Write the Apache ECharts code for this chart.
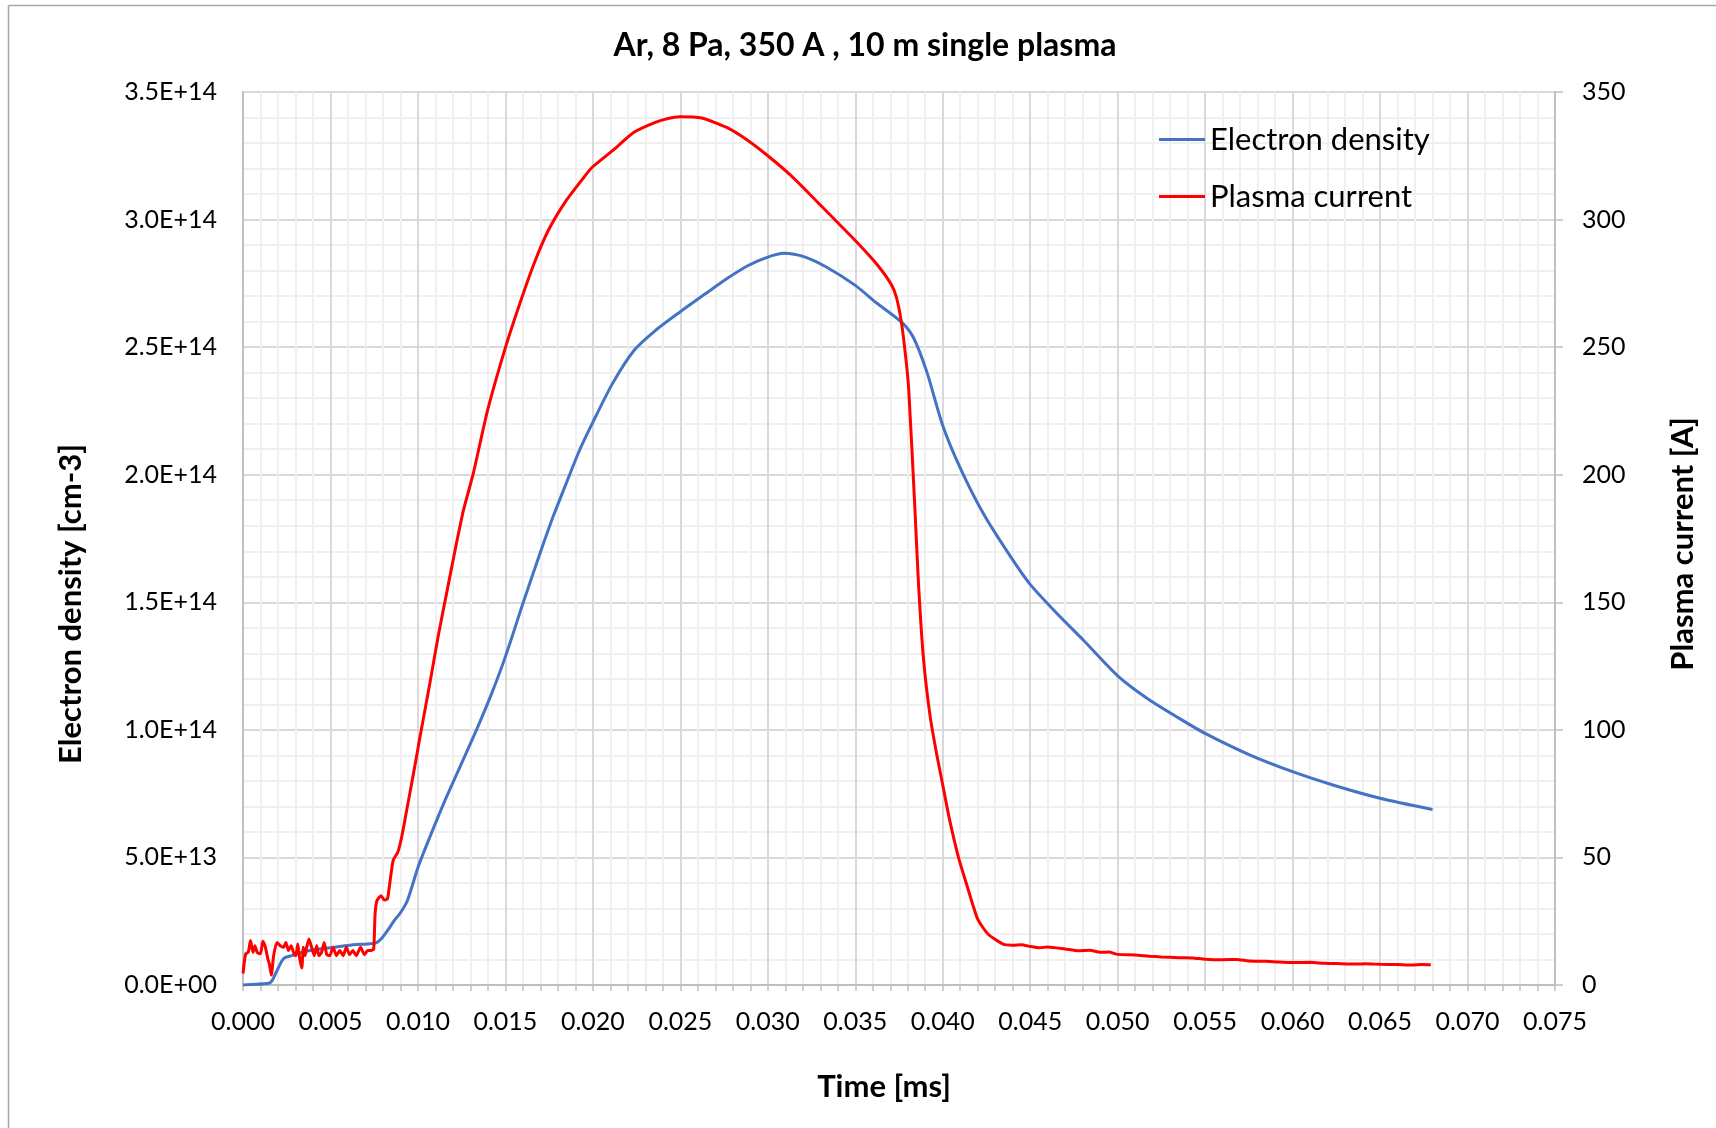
<!DOCTYPE html>
<html>
<head>
<meta charset="utf-8">
<script src="https://cdn.jsdelivr.net/npm/echarts@6/dist/echarts.min.js"></script>
<style>
html,body{margin:0;padding:0;background:#fff;}
#chart{width:1716px;height:1128px;}
</style>
</head>
<body>
<div id="chart"></div>
<script>
// ---- data ----
const titleText = 'Ar, 8 Pa, 350 A , 10 m single plasma';
const seriesNames = ['Electron density', 'Plasma current'];
const xAxisName = 'Time [ms]';
const yLeftName = 'Electron density [cm-3]';
const yRightName = 'Plasma current [A]';

// Electron density [cm-3] vs time [ms]
const tDensity = [0,0.00147,0.00166,0.00194,0.00223,0.00242,0.00279,0.00336,0.0043,0.00525,0.00619,0.00713,0.00761,0.00789,0.00826,0.00864,0.00902,0.0094,0.01002,0.01080,0.01164,0.01250,0.01336,0.0142,0.0150,0.01602,0.01704,0.01775,0.01847,0.01920,0.01996,0.02112,0.02235,0.02357,0.02496,0.02643,0.02765,0.02888,0.0300,0.03092,0.03214,0.03337,0.0350,0.03624,0.03766,0.03833,0.03909,0.0400,0.04099,0.04232,0.04384,0.0450,0.0465,0.04802,0.0500,0.0518,0.0535,0.055,0.05754,0.060,0.0623,0.065,0.068];
const density = [0,0.65e12,1.7e12,5.6e12,9.5e12,10.8e12,11.5e12,12.8e12,14.1e12,14.8e12,15.7e12,16.1e12,16.5e12,18e12,21.3e12,25.2e12,28.5e12,33.1e12,46.4e12,60e12,73.8e12,87e12,100.2e12,114e12,128.7e12,149.9e12,170.4e12,184e12,196.5e12,209e12,220e12,235.7e12,248.7e12,256.5e12,263.7e12,270.9e12,276.8e12,282e12,285.3e12,286.8e12,285.3e12,281.3e12,274.2e12,267.2e12,259.7e12,253.7e12,240.3e12,219.3e12,202.8e12,184.8e12,168.3e12,157e12,145.8e12,135.3e12,121.2e12,111.8e12,104.6e12,98.6e12,90.2e12,83.6e12,78.4e12,73.2e12,68.8e12];

// Plasma current [A] vs time [ms]
const tCurrent = [0,0.00015,0.0003,0.00043,0.00057,0.00068,0.00081,0.001,0.00113,0.00128,0.00142,0.00151,0.00162,0.00175,0.00194,0.00213,0.00232,0.00245,0.0026,0.00275,0.00289,0.00302,0.00313,0.00323,0.00336,0.00345,0.00355,0.00364,0.00377,0.00392,0.00408,0.00421,0.00434,0.00449,0.00464,0.00479,0.00496,0.00515,0.00534,0.00553,0.00572,0.00591,0.00609,0.00628,0.00647,0.00672,0.00694,0.00713,0.00732,0.00747,0.00755,0.00766,0.00789,0.00808,0.00826,0.00836,0.00859,0.00885,0.00907,0.00936,0.00974,0.0101,0.01069,0.01117,0.01164,0.01214,0.0126,0.01316,0.01398,0.0150,0.01582,0.01663,0.01745,0.01847,0.01949,0.01996,0.02112,0.02235,0.02357,0.0243,0.02496,0.02622,0.02765,0.02888,0.0300,0.03133,0.03276,0.03378,0.0350,0.03622,0.03704,0.03735,0.03765,0.0379,0.03806,0.0384,0.03861,0.0389,0.03928,0.03966,0.04004,0.0404,0.0409,0.04142,0.0420,0.0426,0.04345,0.0440,0.0445,0.0450,0.0455,0.0460,0.0470,0.04776,0.0484,0.0490,0.0495,0.0500,0.0510,0.0518,0.0525,0.0535,0.0543,0.0550,0.0560,0.0568,0.0575,0.0585,0.0592,0.0600,0.0610,0.0618,0.0625,0.0635,0.0642,0.0650,0.0660,0.0668,0.0674,0.0679];
const current = [4.5,12.2,12.8,17.4,12.8,15.4,12.8,12.2,17.1,14.8,10.2,8.2,3.9,11.5,16.7,15.4,14.8,16.7,13.5,15.4,12.8,11.5,16.1,10.8,6.7,14.8,11.5,14.8,18,14.8,11.5,15.4,11.5,12.8,16.7,11.9,11.5,14.8,11.5,13.5,11.5,14.8,11.9,13.5,11.5,14.8,11.9,13.5,13.5,14.1,27.8,33.1,35,33.3,33.8,38.3,49,52,58,68.6,82.7,96.5,118.6,137.2,153.6,171,186,200.4,225.2,249.8,267,282.6,295.7,307.4,316.6,320.5,327,334.2,338.1,339.6,340.3,339.8,336.1,330.9,325,317.2,307.4,300.3,291.8,282.6,274.8,269.6,259.2,245,233,188,157.8,127.8,105.3,90.3,77,64.5,50,38.2,25.8,19.9,16,15.6,15.8,15.1,14.6,14.9,14.1,13.4,13.6,12.8,12.9,12,11.8,11.3,11,10.7,10.6,10.1,9.9,10.0,9.4,9.3,9.0,8.8,8.9,8.5,8.4,8.2,8.3,8.1,8.0,7.8,8.0,7.9];

// axis ranges / ticks
const xMin = 0, xMax = 0.075, xStep = 0.005;
const yLeftMin = 0, yLeftMax = 3.5e14, yLeftStep = 5e13;
const yRightMin = 0, yRightMax = 350, yRightStep = 50;

// ---- chart ----
const FONT = 'Lato';
const densityData = tDensity.map((t, i) => [t, density[i]]);
const currentData = tCurrent.map((t, i) => [t, current[i]]);

function sciFmt(v) {
  if (v === 0) return '0.0E+00';
  const e = Math.floor(Math.log10(Math.abs(v)) + 1e-9);
  const m = v / Math.pow(10, e);
  return m.toFixed(1) + 'E+' + (e < 10 ? '0' + e : e);
}

const chart = echarts.init(document.getElementById('chart'), null, {renderer: 'canvas'});
const gridColor = '#d9d9d9';
const minorColor = '#f0f0f0';
const axisColor = '#bfbfbf';

chart.setOption({
  backgroundColor: '#ffffff',
  animation: false,
  textStyle: {fontFamily: FONT},
  title: {
    text: titleText,
    left: 860, top: 25, textAlign: 'center',
    textStyle: {fontFamily: FONT, fontWeight: 'bold', fontSize: 32, color: '#000'}
  },
  legend: {
    orient: 'vertical',
    left: 1154, top: 119,
    icon: 'rect',
    itemWidth: 46, itemHeight: 3, itemGap: 26,
    textStyle: {fontFamily: FONT, fontSize: 31, color: '#000', padding: [0,0,0,0]},
    data: seriesNames
  },
  grid: {left: 243, right: 161, top: 92, bottom: 143, containLabel: false},
  xAxis: {
    type: 'value', min: xMin, max: xMax, interval: xStep,
    axisLine: {show: true, onZero: false, lineStyle: {color: axisColor, width: 2}},
    axisTick: {show: true, length: 6, lineStyle: {color: axisColor, width: 1.5}},
    minorTick: {show: true, splitNumber: 5, length: 6, lineStyle: {color: axisColor, width: 1.5}},
    splitLine: {show: true, lineStyle: {color: gridColor, width: 2}},
    minorSplitLine: {show: true, lineStyle: {color: minorColor, width: 2}},
    axisLabel: {fontFamily: FONT, fontSize: 25, color: '#000', margin: 24,
      formatter: v => v.toFixed(3)}
  },
  yAxis: [{
    type: 'value', min: yLeftMin, max: yLeftMax, interval: yLeftStep,
    position: 'left',
    axisLine: {show: true, lineStyle: {color: axisColor, width: 2}},
    axisTick: {show: false},
    minorTick: {show: false, splitNumber: 5},
    splitLine: {show: true, lineStyle: {color: gridColor, width: 2}},
    minorSplitLine: {show: true, lineStyle: {color: minorColor, width: 2}},
    axisLabel: {fontFamily: FONT, fontSize: 25, color: '#000', margin: 26, formatter: sciFmt}
  }, {
    type: 'value', min: yRightMin, max: yRightMax, interval: yRightStep,
    position: 'right',
    axisLine: {show: true, lineStyle: {color: axisColor, width: 2}},
    axisTick: {show: true, length: 8, lineStyle: {color: axisColor, width: 1.5}},
    splitLine: {show: false},
    axisLabel: {fontFamily: FONT, fontSize: 25, color: '#000', margin: 27}
  }],
  graphic: [
    {type: 'line', shape: {x1: 8.5, y1: 5.5, x2: 1716, y2: 5.5}, style: {stroke: '#a6a6a6', lineWidth: 1.5}},
    {type: 'line', shape: {x1: 8.5, y1: 5.5, x2: 8.5, y2: 1128}, style: {stroke: '#a6a6a6', lineWidth: 1.5}},
    {type: 'text', x: 71, y: 604, rotation: Math.PI / 2,
      style: {text: yLeftName, font: 'bold 31px ' + FONT, fill: '#000', textAlign: 'center', textVerticalAlign: 'middle'}},
    {type: 'text', x: 1683, y: 544, rotation: Math.PI / 2,
      style: {text: yRightName, font: 'bold 31px ' + FONT, fill: '#000', textAlign: 'center', textVerticalAlign: 'middle'}},
    {type: 'text', x: 884, y: 1087,
      style: {text: xAxisName, font: 'bold 31px ' + FONT, fill: '#000', textAlign: 'center', textVerticalAlign: 'middle'}}
  ],
  series: [{
    name: seriesNames[0], type: 'line', yAxisIndex: 0,
    data: densityData, showSymbol: false, symbol: 'none',
    smooth: 0.25,
    lineStyle: {color: '#4472C4', width: 3},
    itemStyle: {color: '#4472C4'}, z: 3
  }, {
    name: seriesNames[1], type: 'line', yAxisIndex: 1,
    data: currentData, showSymbol: false, symbol: 'none',
    smooth: 0.2,
    lineStyle: {color: '#FF0000', width: 3},
    itemStyle: {color: '#FF0000'}, z: 4
  }]
});
</script>
</body>
</html>
